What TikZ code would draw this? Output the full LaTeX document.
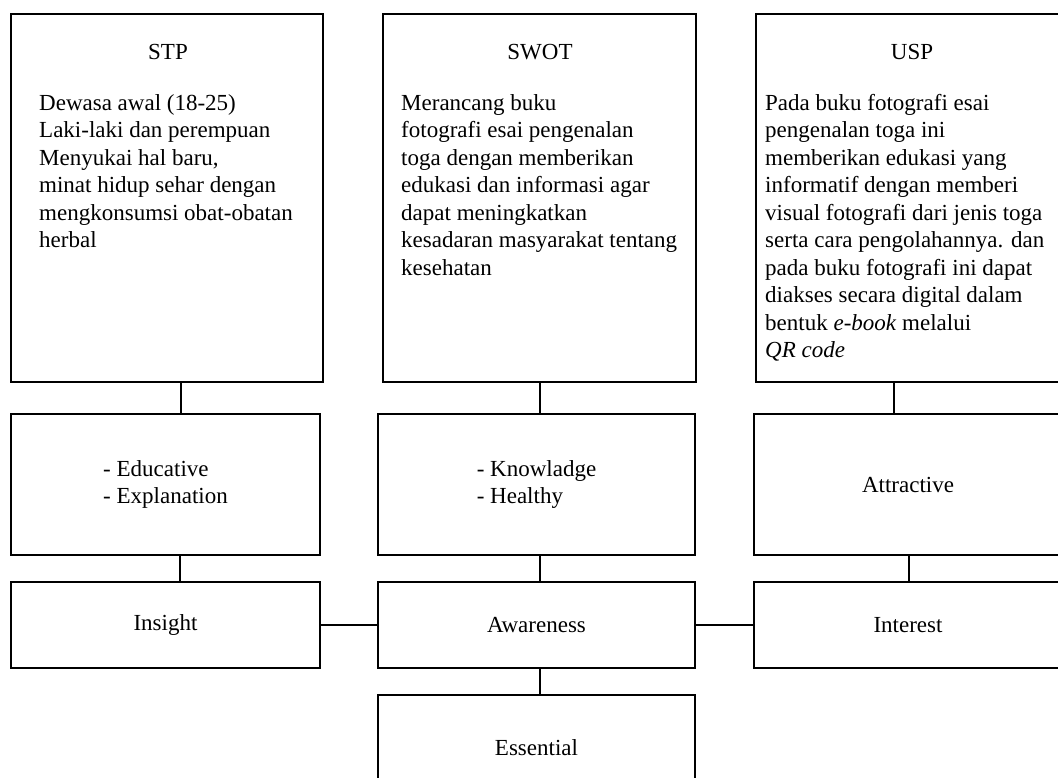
\documentclass[tikz,border=0pt]{standalone}
\usepackage{fontspec}
\setmainfont{Liberation Serif}
\tikzset{
  box/.style={draw, line width=1.8pt, inner sep=0pt, fill=none},
  txt/.style={inner sep=0pt, font=\fontsize{23}{27.5}\selectfont},
  body/.style={txt, align=left, anchor=north west},
  link/.style={line width=1.8pt}
}
\begin{document}
\begin{tikzpicture}[x=1pt,y=-1pt]
\clip (0,0) rectangle (1058,778);
\fill[white] (0,0) rectangle (1058,778);
% top boxes
\node[box, minimum width=312pt, minimum height=368pt] (stp) at (167,198) {};
\node[box, minimum width=313pt, minimum height=368pt] (swot) at (539.5,198) {};
\node[box, minimum width=306pt, minimum height=368pt] (usp) at (909,198) {};
% titles
\node[txt, anchor=base] (stpT) at (168,60) {STP};
\node[txt, anchor=base] (swotT) at (540,60) {SWOT};
\node[txt, anchor=base] (uspT) at (912,60) {USP};
% bodies
\node[body] (stpB) at (39,94) {Dewasa awal (18-25)\\Laki-laki dan perempuan\\Menyukai hal baru,\\minat hidup sehar dengan\\mengkonsumsi obat-obatan\\herbal};
\node[body] (swotB) at (401,94) {Merancang buku\\fotografi esai pengenalan\\toga dengan memberikan\\edukasi dan informasi agar\\dapat meningkatkan\\kesadaran masyarakat tentang\\kesehatan};
\node[body] (uspB) at (765,94) {Pada buku fotografi esai\\pengenalan toga ini\\memberikan edukasi yang\\informatif dengan memberi\\visual fotografi dari jenis toga\\serta cara pengolahannya. dan\\pada buku fotografi ini dapat\\diakses secara digital dalam\\bentuk \textit{e-book} melalui\\\textit{QR code}};
% second row
\node[box, minimum width=309pt, minimum height=141pt, txt, align=left] (edu) at (165.5,484.5) {- Educative\\- Explanation};
\node[box, minimum width=317pt, minimum height=141pt, txt, align=left] (know) at (536.5,484.5) {- Knowladge\\- Healthy};
\node[box, minimum width=308pt, minimum height=141pt, txt] (attr) at (908,484.5) {Attractive};
% third row
\node[box, minimum width=309pt, minimum height=86pt, txt] (ins) at (165.5,625) {Insight};
\node[box, minimum width=317pt, minimum height=86pt, txt] (awa) at (536.5,625) {Awareness};
\node[box, minimum width=308pt, minimum height=86pt, txt] (int) at (908,625) {Interest};
% fourth
\node[box, minimum width=317pt, minimum height=106pt, txt] (ess) at (536.5,748) {Essential};
% connector columns
\coordinate (cA) at (181,0);
\coordinate (cB) at (540,0);
\coordinate (cC) at (894,0);
\coordinate (cD) at (909,0);
\coordinate (cE) at (180,0);
\draw[link] (stp.south -| cA) -- (edu.north -| cA);
\draw[link] (swot.south -| cB) -- (know.north -| cB);
\draw[link] (usp.south -| cC) -- (attr.north -| cC);
\draw[link] (edu.south -| cE) -- (ins.north -| cE);
\draw[link] (know.south -| cB) -- (awa.north -| cB);
\draw[link] (attr.south -| cD) -- (int.north -| cD);
\draw[link] (awa.south -| cB) -- (ess.north -| cB);
\draw[link] (ins.east) -- (awa.west);
\draw[link] (awa.east) -- (int.west);
\end{tikzpicture}
\end{document}
